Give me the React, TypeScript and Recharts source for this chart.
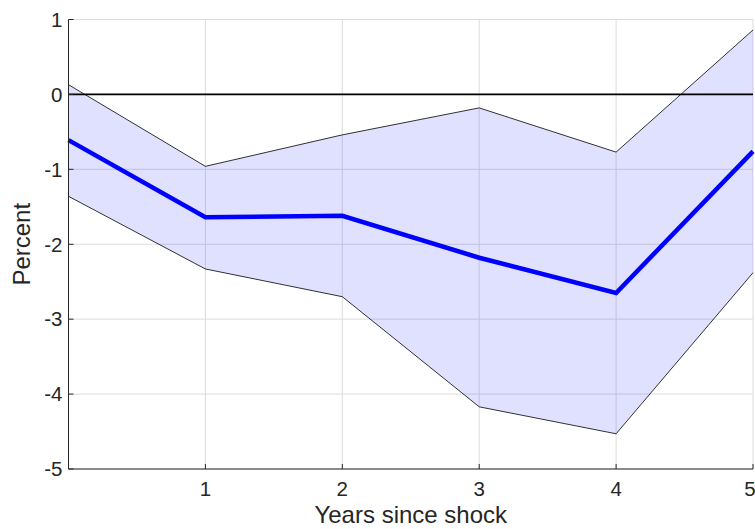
import { Area, CartesianGrid, ComposedChart, Line, ReferenceLine, XAxis, YAxis } from "recharts";

const years = [0, 1, 2, 3, 4, 5];
const upper = [0.13, -0.96, -0.54, -0.18, -0.77, 0.86];
const lower = [-1.36, -2.33, -2.7, -4.17, -4.53, -2.38];
const response = [-0.61, -1.64, -1.62, -2.18, -2.65, -0.76];

const xTicks = [1, 2, 3, 4, 5];
const yTicks = [-5, -4, -3, -2, -1, 0, 1];

const FONT = "'Liberation Sans', Arial, Helvetica, sans-serif";
const AXIS_COLOR = "#262626";

const data = years.map((t, i) => ({
    t,
    band: [lower[i], upper[i]],
    lo: lower[i],
    hi: upper[i],
    mean: response[i],
}));

const noLabel = () => <g />;

const App = () => {
    return <div style={{ position: "absolute", left: 0, top: 0, width: 755, height: 529, background: "#fff" }}>
        <ComposedChart width={755} height={529} data={data} margin={{ top: 19.5, right: 2, bottom: 0, left: 8 }}>
            <CartesianGrid stroke="#dcdcdc" strokeWidth={1} xAxisId={0} yAxisId={0} />
            <XAxis
                dataKey="t"
                type="number"
                domain={[0, 5]}
                ticks={xTicks}
                height={60}
                axisLine={{ stroke: AXIS_COLOR, strokeWidth: 1 }}
                tickLine={{ stroke: AXIS_COLOR }}
                tickSize={-5}
                tickMargin={17}
                tick={{ fill: AXIS_COLOR, fontSize: 20.5, fontFamily: FONT }}
                label={{ value: "Years since shock", position: "insideBottom", offset: 6, fill: AXIS_COLOR, fontSize: 24, fontFamily: FONT }}
            />
            <XAxis
                xAxisId="top"
                orientation="top"
                dataKey="t"
                type="number"
                domain={[0, 5]}
                ticks={xTicks}
                height={0}
                axisLine={{ stroke: AXIS_COLOR, strokeWidth: 1 }}
                tickLine={{ stroke: AXIS_COLOR }}
                tickSize={-5}
                tick={noLabel}
            />
            <YAxis
                type="number"
                domain={[-5, 1]}
                ticks={yTicks}
                width={60.5}
                axisLine={{ stroke: AXIS_COLOR, strokeWidth: 1 }}
                tickLine={{ stroke: AXIS_COLOR }}
                tickSize={-5}
                tickMargin={11}
                tick={{ fill: AXIS_COLOR, fontSize: 20.5, fontFamily: FONT }}
                label={{ value: "Percent", angle: -90, position: "insideLeft", offset: 13, fill: AXIS_COLOR, fontSize: 24, fontFamily: FONT, style: { textAnchor: "middle" } }}
            />
            <YAxis
                yAxisId="right"
                orientation="right"
                type="number"
                domain={[-5, 1]}
                ticks={yTicks}
                width={0}
                axisLine={{ stroke: AXIS_COLOR, strokeWidth: 1 }}
                tickLine={{ stroke: AXIS_COLOR }}
                tickSize={-5}
                tick={noLabel}
            />
            <Area dataKey="band" type="linear" fill="#0000ff" fillOpacity={0.12} stroke="none" isAnimationActive={false} />
            <Line dataKey="hi" type="linear" stroke="#000" strokeWidth={0.8} dot={false} activeDot={false} isAnimationActive={false} />
            <Line dataKey="lo" type="linear" stroke="#000" strokeWidth={0.8} dot={false} activeDot={false} isAnimationActive={false} />
            <ReferenceLine y={0} stroke="#000" strokeWidth={1.8} />
            <Line dataKey="mean" type="linear" stroke="#0000ff" strokeWidth={4.5} dot={false} activeDot={false} isAnimationActive={false} />
        </ComposedChart>
    </div>
}

export default App;
